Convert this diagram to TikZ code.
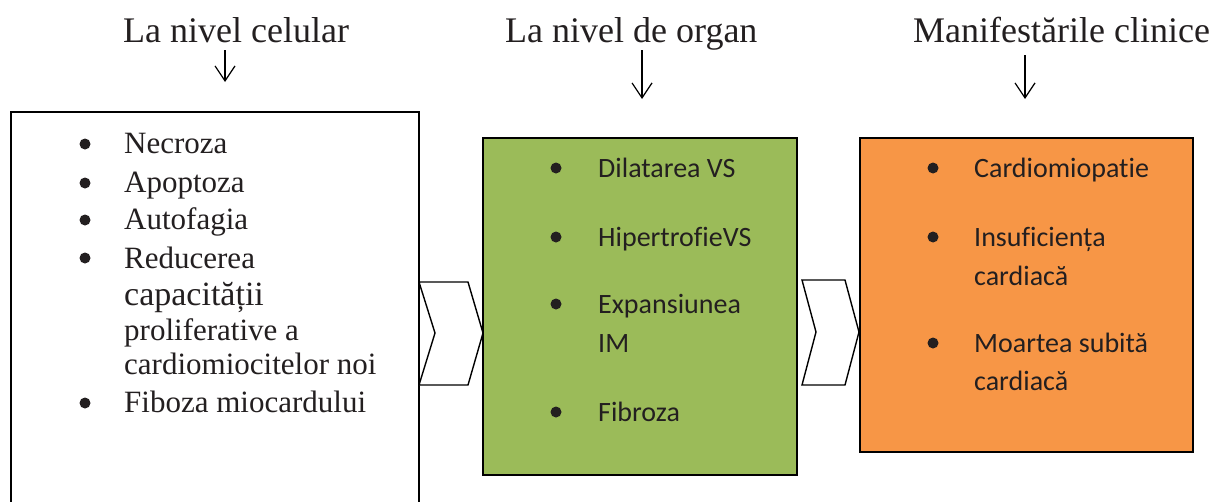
\documentclass[tikz,border=0pt]{standalone}
\usepackage{fontspec}
\setmainfont[Ligatures={NoCommon,NoRequired,NoContextual}]{Liberation Serif}
\newfontfamily\calib[Ligatures={NoCommon,NoRequired,NoContextual,NoDiscretionary}]{Carlito}
\usetikzlibrary{arrows.meta}
\definecolor{txt}{HTML}{231F20}
\definecolor{olivegr}{HTML}{9BBB59}
\definecolor{orng}{HTML}{F79646}
\tikzset{
  hdr/.style={anchor=base west,inner sep=0pt,font=\fontsize{36}{40}\selectfont,text=txt},
  serif/.style={anchor=base west,inner sep=0pt,font=\fontsize{31}{36}\selectfont,text=txt},
  sans/.style={anchor=base west,inner sep=0pt,font=\calib\fontsize{28}{34}\selectfont,text=txt},
  bul/.style={circle,fill=txt,inner sep=0pt,minimum size=11pt},
  downarr/.style={line width=1.2pt,-{Straight Barb[length=15pt,width=20pt,line width=1.2pt]}},
  chev/.style={draw=black,fill=white,line width=1.4pt,line join=miter},
}
\begin{document}
\begin{tikzpicture}[x=1pt,y=-1pt]
\useasboundingbox (0,0) rectangle (1214,501);
% headers
\node[hdr] (h1) at (123,42) {La nivel celular};
\node[hdr] (h2) at (505,42) {La nivel de organ};
\node[hdr] (h3) at (913,42) {Manifestările clinice};
% arrows
\coordinate (a1s) at (225,50); \coordinate (a1e) at (225,82);
\coordinate (a2s) at (642,50); \coordinate (a2e) at (642,99);
\coordinate (a3s) at (1025,55); \coordinate (a3e) at (1025,99);
\draw[downarr] (a1s) -- (a1e);
\draw[downarr] (a2s) -- (a2e);
\draw[downarr] (a3s) -- (a3e);
% boxes
\draw[line width=1.6pt,fill=white] (11,520) -- (11,112) -- (419,112) -- (419,520);
\draw[line width=1.5pt,fill=olivegr] (483,138) rectangle (797,475);
\draw[line width=1.5pt,fill=orng] (860,138) rectangle (1193,452);
% chevrons
\draw[chev] (419,282) -- (468,282) -- (483,333) -- (468,385) -- (419,385) -- (435,333) -- cycle;
\draw[chev] (802,280) -- (845,280) -- (859,332) -- (845,385) -- (802,385) -- (816,332) -- cycle;
% left list
\node[bul] (lb1) at (85,144) {};
\node[serif] (l1) at (124,153) {Necroza};
\node[bul] (lb2) at (85,183) {};
\node[serif] (l2) at (124,192) {Apoptoza};
\node[bul] (lb3) at (85,220) {};
\node[serif] (l3) at (124,229) {Autofagia};
\node[bul] (lb4) at (85,258) {};
\node[serif] (l4) at (124,268) {Reducerea};
\node[serif,font=\fontsize{34}{38}\selectfont] (l5) at (124,305) {capacității};
\node[serif] (l6) at (124,340) {proliferative a};
\node[serif] (l7) at (124,374) {cardiomiocitelor noi};
\node[bul] (lb5) at (85,403) {};
\node[serif] (l8) at (124,412) {Fiboza miocardului};
% green list
\node[bul] (gb1) at (556,168) {};
\node[sans] (g1) at (598,177) {Dilatarea VS};
\node[bul] (gb2) at (556,237) {};
\node[sans] (g2) at (598,246) {HipertrofieVS};
\node[bul] (gb3) at (556,304) {};
\node[sans] (g3) at (598,313) {Expansiunea};
\node[sans] (g4) at (598,352) {IM};
\node[bul] (gb4) at (556,412) {};
\node[sans] (g5) at (598,421) {Fibroza};
% orange list
\node[bul] (ob1) at (933,168) {};
\node[sans] (o1) at (974,177) {Cardiomiopatie};
\node[bul] (ob2) at (933,237) {};
\node[sans] (o2) at (974,246) {Insuficiența};
\node[sans] (o3) at (974,285) {cardiacă};
\node[bul] (ob3) at (933,343) {};
\node[sans] (o4) at (974,352) {Moartea subită};
\node[sans] (o5) at (974,390) {cardiacă};
\end{tikzpicture}
\end{document}
